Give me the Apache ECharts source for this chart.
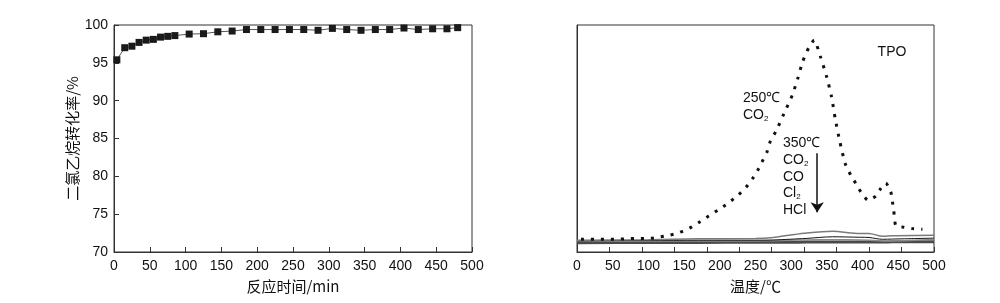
<!DOCTYPE html>
<html><head><meta charset="utf-8">
<script src="https://cdn.jsdelivr.net/npm/echarts@6/dist/echarts.min.js"></script>
<style>html,body{margin:0;padding:0;background:#fff}#c{width:1000px;height:303px}</style>
</head><body><div id="c"></div>
<script>
// ---- Left panel: conversion vs time ----
const timeMin = [4,15,25,35,45,55,65,75,85,105,125,145,165,185,205,225,245,265,285,305,325,345,365,385,405,425,445,465,480];
const conversion = [95.4,97.0,97.2,97.7,98.0,98.1,98.4,98.5,98.6,98.8,98.85,99.1,99.2,99.4,99.4,99.4,99.4,99.4,99.3,99.55,99.4,99.3,99.4,99.4,99.6,99.4,99.5,99.5,99.65];
const leftXTicks = [0,50,100,150,200,250,300,350,400,450,500];
const leftYTicks = [70,75,80,85,90,95,100];

// ---- Right panel: TPO signals vs temperature ----
const tpoTemp = [5.6,18.6,32.6,46.1,60.5,73.5,87.5,101.5,115.5,129.5,143.5,157.5,170.6,184.6,198.5,211.6,225.1,236.7,246.1,253.1,259.1,266,271,278.7,289.9,301.5,309,316,325.2,332.2,341.2,349.6,356.5,361.6,368.2,375.6,383.5,390.5,397.5,407.7,418.5,425.5,432.5,439.5,441.8,443.6,446.5,455.8,469.8,483.8];
const co2At250 = [5.6,5.6,5.6,5.6,5.7,5.9,6.0,6.0,6.6,7.4,8.6,10.5,13.0,15.9,18.7,21.5,24.9,28.5,32.4,36.0,39.7,44,49,53.2,61.0,69.1,76.2,83.8,90.4,93.3,85.8,77.2,68.4,58.8,48.5,39.0,33.8,30.2,26.5,22.8,24.6,28.0,30.4,26.5,22.1,18.4,11.6,11.0,10.3,10.0];
const gasTemp = [0,100,170,250,275,297,322,358,396,409,428,442,500];
const co2At350 = [5.2,5.4,5.8,5.9,6.4,7.4,8.4,9.1,8.1,8.2,6.9,7.2,7.4];
const coAt350  = [4.9,5.1,5.2,5.2,5.3,5.6,6.0,6.7,6.5,6.4,5.6,5.7,6.1];
const cl2At350 = [4.7,4.8,4.8,4.9,5.0,5.2,5.3,5.4,5.3,5.2,4.9,4.9,5.5];
const hclAt350 = [4.1,4.2,4.2,4.3,4.3,4.3,4.4,4.4,4.4,4.4,4.4,4.5,4.5];
const rightXTickLabels = [0,50,100,150,200,250,300,350,400,450,500];

const zip = (xs, ys) => xs.map((x, i) => [x, ys[i]]);
const LAT = 'Liberation Sans';
const CJK = 'Noto Sans CJK SC';
const AX = '#333';

const chart = echarts.init(document.getElementById('c'), null, {renderer: 'canvas'});
const subRich = {
  n: {fontFamily: LAT, fontSize: 14, color: '#111', lineHeight: 16},
  s: {fontFamily: LAT, fontSize: 8, color: '#111', lineHeight: 16, verticalAlign: 'bottom', padding: [6, 0, 0, 0]}
};
function txt(x, y, text, align) {
  return {type: 'text', x: x, y: y, silent: true,
    style: {text: text, rich: subRich, fontFamily: LAT, fontSize: 14, fill: '#111',
      textAlign: align || 'left', textVerticalAlign: 'middle'}};
}

chart.setOption({
  animation: false,
  backgroundColor: '#fff',
  grid: [
    {left: 114, top: 25, width: 358, height: 227, show: true, borderColor: AX, borderWidth: 1},
    {left: 577, top: 25, width: 357, height: 227, show: true, borderColor: AX, borderWidth: 1}
  ],
  xAxis: [
    {type: 'value', gridIndex: 0, min: leftXTicks[0], max: leftXTicks[leftXTicks.length - 1], interval: 50,
     name: '反应时间/min', nameLocation: 'middle', nameGap: 27,
     nameTextStyle: {fontFamily: CJK, fontSize: 15, color: '#111'},
     axisLine: {lineStyle: {color: AX}}, axisTick: {inside: true, length: 5, lineStyle: {color: AX}},
     axisLabel: {margin: 7, fontFamily: LAT, fontSize: 14, color: '#111'}, splitLine: {show: false}},
    {type: 'value', gridIndex: 1, min: 0, max: 550, interval: 50, position: 'bottom',
     axisLine: {lineStyle: {color: AX}}, axisTick: {inside: true, length: 5, lineStyle: {color: AX}},
     axisLabel: {show: false}, splitLine: {show: false}},
    {type: 'value', gridIndex: 1, min: rightXTickLabels[0], max: rightXTickLabels[rightXTickLabels.length - 1], interval: 50, position: 'bottom',
     name: '温度/℃', nameLocation: 'middle', nameGap: 27,
     nameTextStyle: {fontFamily: CJK, fontSize: 15, color: '#111'},
     axisLine: {show: false}, axisTick: {show: false},
     axisLabel: {margin: 7, fontFamily: LAT, fontSize: 14, color: '#111'}, splitLine: {show: false}}
  ],
  yAxis: [
    {type: 'value', gridIndex: 0, min: leftYTicks[0], max: leftYTicks[leftYTicks.length - 1], interval: 5,
     name: '二氯乙烷转化率/%', nameLocation: 'middle', nameGap: 34, nameRotate: 90,
     nameTextStyle: {fontFamily: CJK, fontSize: 15, color: '#111'},
     axisLine: {show: true, lineStyle: {color: AX}}, axisTick: {show: true, inside: true, length: 5, lineStyle: {color: AX}},
     axisLabel: {margin: 6, fontFamily: LAT, fontSize: 14, color: '#111'}, splitLine: {show: false}},
    {type: 'value', gridIndex: 1, min: 0, max: 100,
     axisLine: {show: true, lineStyle: {color: AX}}, axisTick: {show: false},
     axisLabel: {show: false}, splitLine: {show: false}}
  ],
  series: [
    {type: 'line', xAxisIndex: 0, yAxisIndex: 0, data: zip(timeMin, conversion),
     symbol: 'rect', symbolSize: 7, itemStyle: {color: '#1a1a1a'},
     lineStyle: {color: '#555', width: 1}},
    {type: 'line', xAxisIndex: 2, yAxisIndex: 1, data: zip(gasTemp, hclAt350), symbol: 'none', smooth: 0.3,
     lineStyle: {color: '#4a4a4a', width: 3}},
    {type: 'line', xAxisIndex: 2, yAxisIndex: 1, data: zip(gasTemp, cl2At350), symbol: 'none', smooth: 0.3,
     lineStyle: {color: '#8a8a8a', width: 1.5}},
    {type: 'line', xAxisIndex: 2, yAxisIndex: 1, data: zip(gasTemp, coAt350), symbol: 'none', smooth: 0.3,
     lineStyle: {color: '#111', width: 1}},
    {type: 'line', xAxisIndex: 2, yAxisIndex: 1, data: zip(gasTemp, co2At350), symbol: 'none', smooth: 0.3,
     lineStyle: {color: '#7a7a7a', width: 1.5},
     markLine: {silent: true, symbol: ['none', 'arrow'], symbolSize: 10, symbolKeepAspect: false,
       label: {show: false}, emphasis: {disabled: true},
       itemStyle: {color: '#111'},
       lineStyle: {color: '#111', width: 1.5, type: 'solid'},
       data: [[{coord: [336.4, 43.5]}, {coord: [336.4, 17.5]}]]}},
    {type: 'line', xAxisIndex: 2, yAxisIndex: 1, data: zip(tpoTemp, co2At250), symbol: 'none', smooth: 0.2,
     lineStyle: {color: '#111', width: 3, type: [3, 7], cap: 'butt'}}
  ],
  graphic: [
    txt(892, 52, 'TPO', 'center'),
    txt(743, 98, '250℃'),
    txt(743, 115, '{n|CO}{s|2}'),
    txt(783, 143, '350℃'),
    txt(783, 160, '{n|CO}{s|2}'),
    txt(783, 177, 'CO'),
    txt(783, 193, '{n|Cl}{s|2}'),
    txt(783, 210, 'HCl')
  ]
});
</script></body></html>
